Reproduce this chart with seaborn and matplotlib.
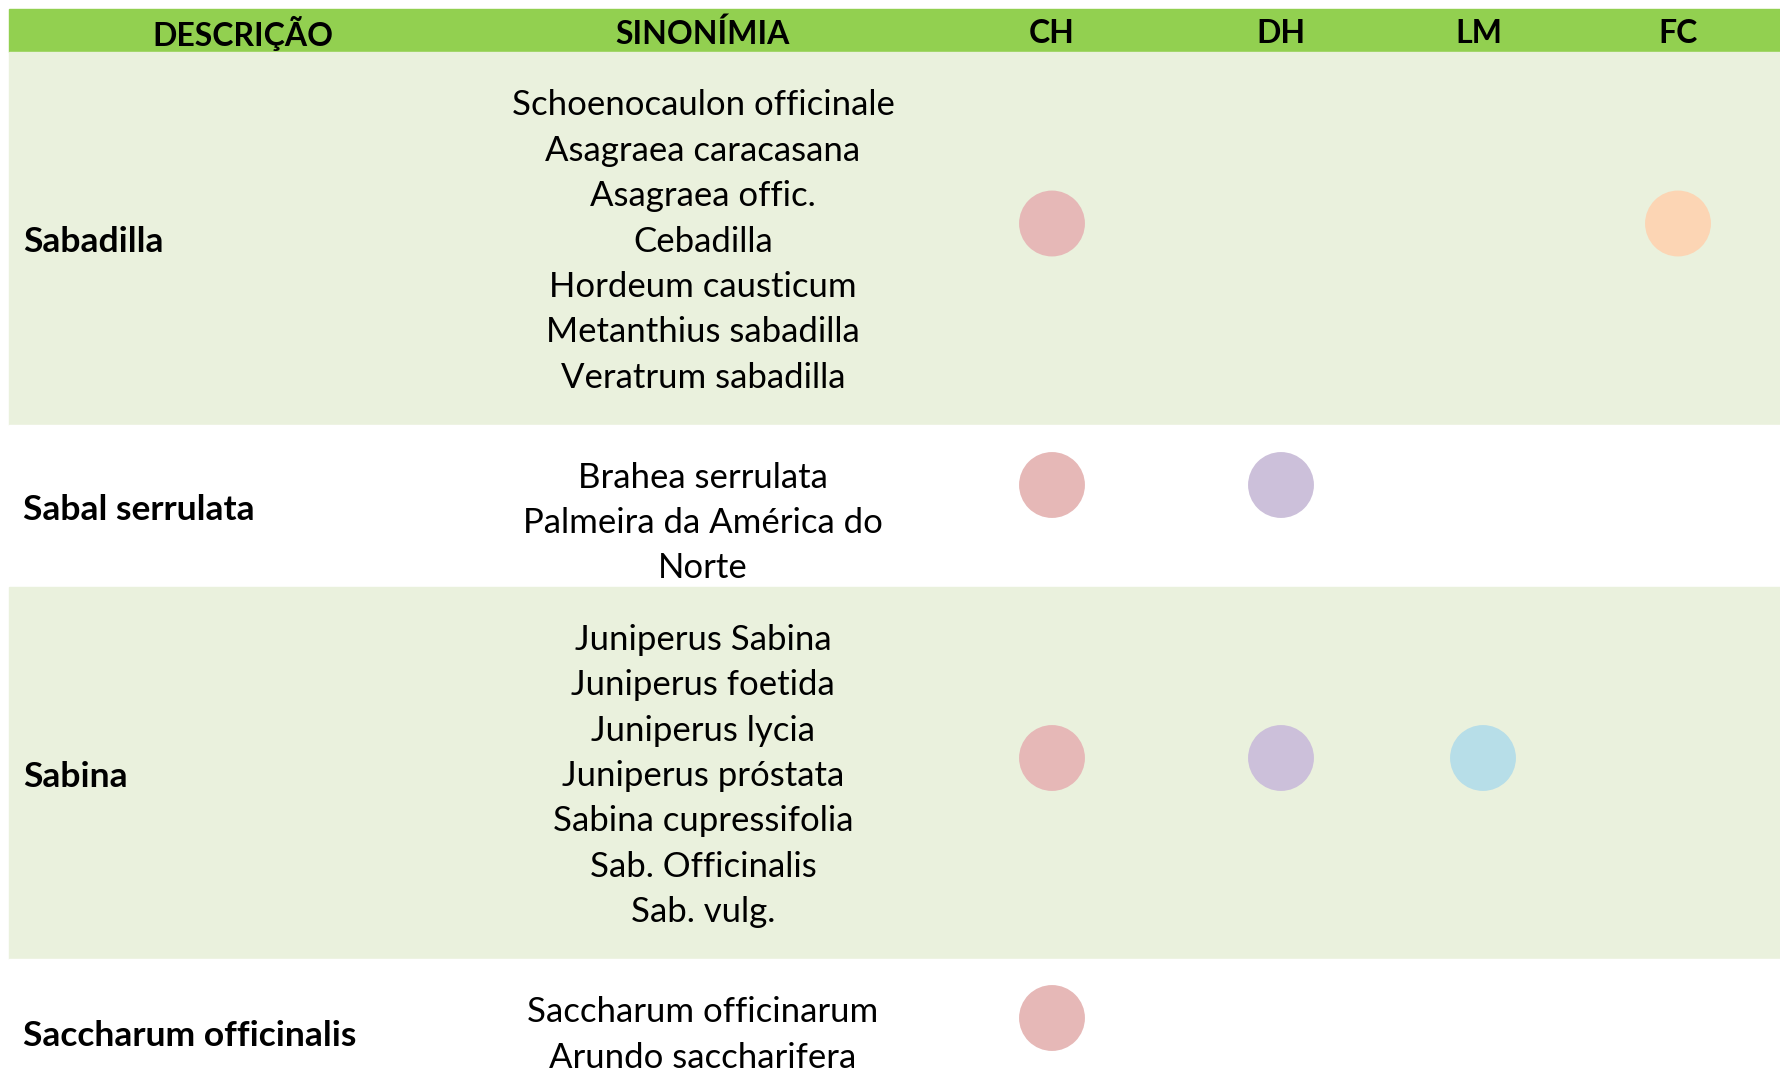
import pandas as pd
import matplotlib.pyplot as plt
import seaborn as sns

# Table content
columns = ['DESCRIÇÃO', 'SINONÍMIA', 'CH', 'DH', 'LM', 'FC']
descricao = ['Sabadilla', 'Sabal serrulata', 'Sabina', 'Saccharum officinalis']
sinonimia = [
    ['Schoenocaulon officinale', 'Asagraea caracasana', 'Asagraea offic.', 'Cebadilla',
     'Hordeum causticum', 'Metanthius sabadilla', 'Veratrum sabadilla'],
    ['Brahea serrulata', 'Palmeira da América do', 'Norte'],
    ['Juniperus Sabina', 'Juniperus foetida', 'Juniperus lycia', 'Juniperus próstata',
     'Sabina cupressifolia', 'Sab. Officinalis', 'Sab. vulg.'],
    ['Saccharum officinarum', 'Arundo saccharifera'],
]
ch = [1, 1, 1, 1]
dh = [0, 1, 1, 0]
lm = [0, 0, 1, 0]
fc = [1, 0, 0, 0]

dot_colors = {'CH': '#E6B8B7', 'DH': '#CCC0DA', 'LM': '#B7DEE8', 'FC': '#FCD5B4'}

# Layout (pixel space of the 1780x1070 canvas)
W, H = 1780, 1070
col_x = {'DESCRIÇÃO': 243, 'SINONÍMIA': 703, 'CH': 1052, 'DH': 1281, 'LM': 1479, 'FC': 1678}
dot_x = {'CH': 1052, 'DH': 1281, 'LM': 1483, 'FC': 1678}
left = 9
header_top, header_bot = 9, 52
row_tops = [52, 425, 587, 959]
row_bots = [425, 587, 959, 1105]
syn_shift = [3, 17, 3, 3]
line_gap = 45.4
dot_shift = [-15, -21, -15, -14]
band_colors = ['#EAF1DD', 'white', '#EAF1DD', 'white']

sns.set_theme(style='white')
plt.rcParams['font.family'] = ['Lato', 'DejaVu Sans']

fig = plt.figure(figsize=(W / 100, H / 100), dpi=100)
ax = fig.add_axes([0, 0, 1, 1])

# header band
ax.axhspan(header_top, header_bot, xmin=left / W, xmax=1, color='#92D050', zorder=0)
for c in columns:
    ax.text(col_x[c], (header_top + header_bot) / 2 + 3, c, ha='center', va='center',
            fontsize=23, fontweight='bold', color='black')

# rows
for i, name in enumerate(descricao):
    top, bot = row_tops[i], row_bots[i]
    mid = (top + bot) / 2
    ax.axhspan(top, bot, xmin=left / W, xmax=1, color=band_colors[i], zorder=0)
    ax.text(23, mid + 4, name, ha='left', va='center', fontsize=25.5, fontweight='bold',
            color='black')
    lines = sinonimia[i]
    n = len(lines)
    for j, s in enumerate(lines):
        y = mid + syn_shift[i] + (j - (n - 1) / 2) * line_gap
        ax.text(col_x['SINONÍMIA'], y, s, ha='center', va='center', fontsize=25, color='black')

# dots
flags = {'CH': ch, 'DH': dh, 'LM': lm, 'FC': fc}
recs = []
for c, vals in flags.items():
    for i, v in enumerate(vals):
        if v:
            recs.append({'col': c, 'x': dot_x[c],
                         'y': (row_tops[i] + row_bots[i]) / 2 + dot_shift[i]})
df = pd.DataFrame(recs)
sns.scatterplot(data=df, x='x', y='y', hue='col', palette=dot_colors, s=2250,
                linewidth=0, legend=False, ax=ax, zorder=3)
ax.set_xlim(0, W)
ax.set_ylim(H, 0)
ax.axis('off')

fig.savefig('out.png', dpi=100)
